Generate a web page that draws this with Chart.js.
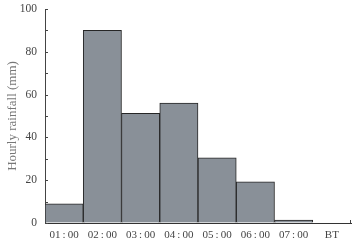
<!DOCTYPE html>
<html><head><meta charset="utf-8">
<script src="https://cdn.jsdelivr.net/npm/chart.js@4/dist/chart.umd.min.js"></script>
<style>html,body{margin:0;padding:0;background:#fff}#c{display:block}</style>
</head><body>
<canvas id="c" width="356" height="245"></canvas>
<script>
const categories = ["01\u2009:\u200900","02\u2009:\u200900","03\u2009:\u200900","04\u2009:\u200900","05\u2009:\u200900","06\u2009:\u200900","07\u2009:\u200900","BT"];
const rainfall = [9, 90, 51.3, 56, 30.4, 19.2, 1.4, null];
const yTitle = "Hourly rainfall (mm)";

const FONT = "'Liberation Serif','DejaVu Serif',serif";

const inwardTicks = {
  id:'inwardTicks',
  afterDraw(chart){
    const {ctx, chartArea:a, scales:{y}} = chart;
    ctx.save();
    ctx.strokeStyle = '#444';
    ctx.lineWidth = 1;
    for (let v = 0; v <= 100; v += 10){
      const py = Math.round(y.getPixelForValue(v)) + 0.5;
      ctx.beginPath(); ctx.moveTo(a.left, py); ctx.lineTo(a.left + 3, py); ctx.stroke();
    }
    const px = Math.round(a.right) - 0.5;
    ctx.beginPath(); ctx.moveTo(px, a.bottom); ctx.lineTo(px, a.bottom - 3); ctx.stroke();
    ctx.restore();
  }
};

new Chart(document.getElementById('c'), {
  type:'bar',
  data:{labels:categories, datasets:[{data:rainfall, backgroundColor:'#899098', borderColor:'#262626', borderWidth:1, categoryPercentage:1, barPercentage:1}]},
  options:{
    responsive:false, animation:false,
    layout:{padding:{left:0,right:5,top:9,bottom:0}},
    plugins:{legend:{display:false}, tooltip:{enabled:false}},
    scales:{
      x:{
        grid:{display:true, drawOnChartArea:false, drawTicks:false},
        border:{color:'#333', width:1},
        ticks:{color:'#444', padding:6, font:{family:FONT, size:11}, maxRotation:0, autoSkip:false},
        afterFit(s){ s.height = 22; s.paddingLeft = 0; s.paddingRight = 0; }
      },
      y:{
        min:0, max:100,
        grid:{display:true, drawOnChartArea:false, drawTicks:false},
        border:{color:'#444', width:1},
        ticks:{stepSize:20, color:'#444', padding:8, font:{family:FONT, size:11.5}},
        title:{display:true, text:yTitle, color:'#777', font:{family:FONT, size:13}, padding:{top:5,bottom:0}},
        afterFit(s){ s.width = 45; s.paddingTop = 0; s.paddingBottom = 0; }
      }
    }
  },
  plugins:[inwardTicks]
});
</script>
</body></html>
